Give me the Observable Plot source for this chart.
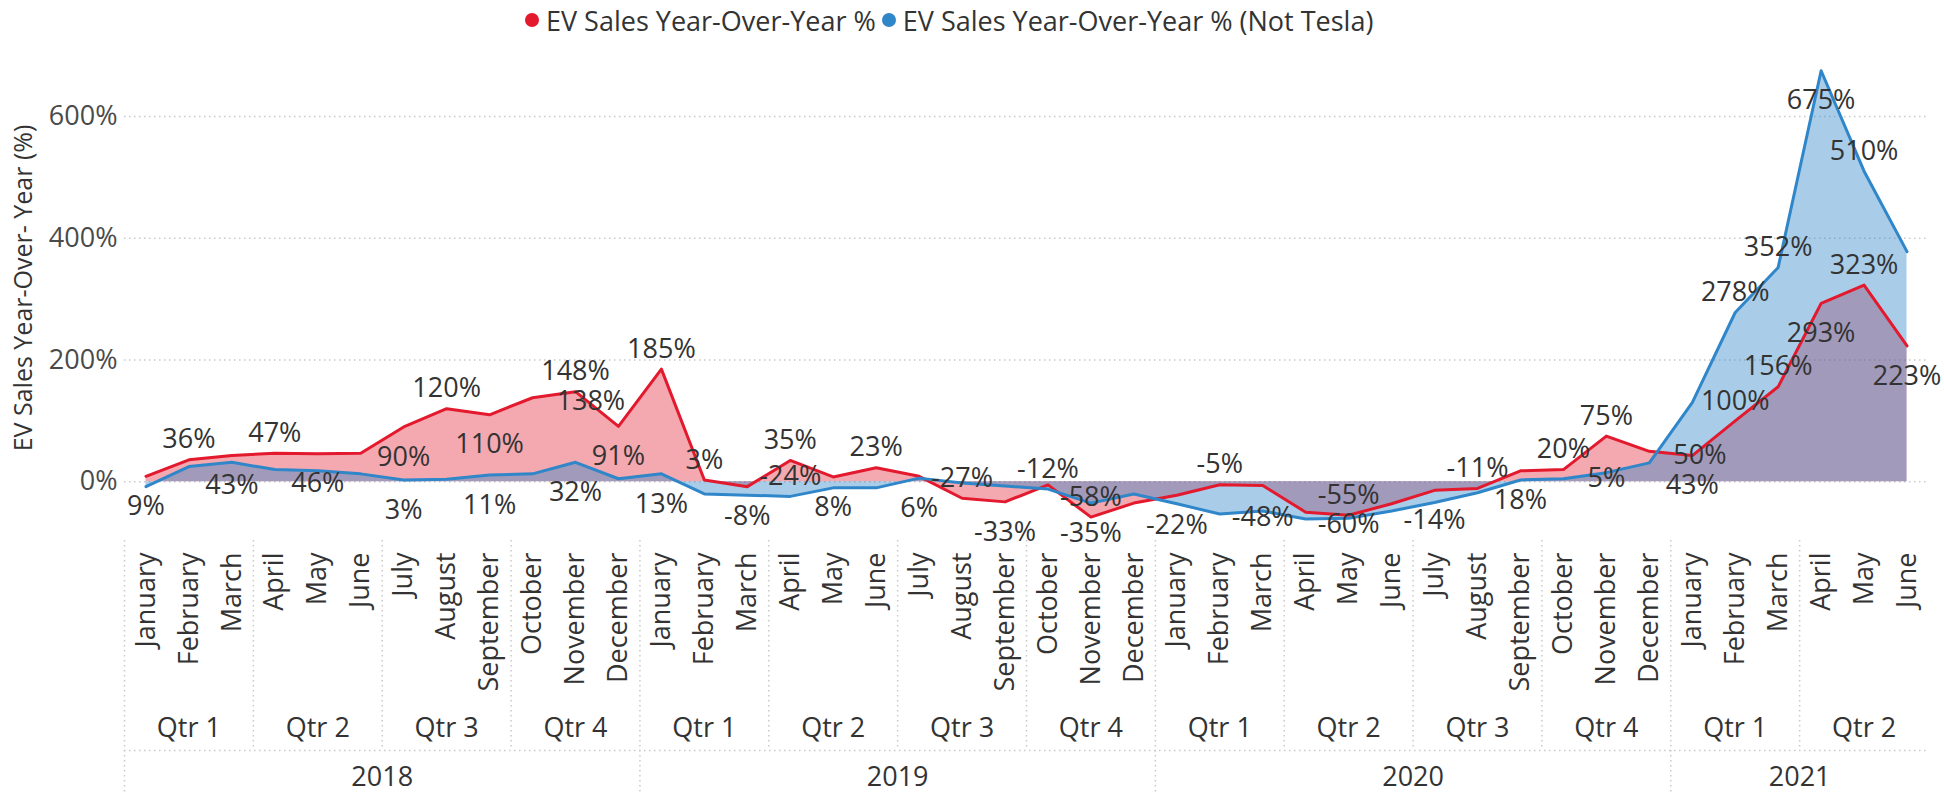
<!DOCTYPE html>
<html>
<head>
<meta charset="utf-8">
<script src="https://cdn.jsdelivr.net/npm/d3@7"></script>
<script src="https://cdn.jsdelivr.net/npm/@observablehq/plot@0.6"></script>
<style>
  html, body { margin: 0; padding: 0; background: #fff; }
  body { width: 1944px; height: 794px; overflow: hidden; font-family: 'Segoe UI', 'Open Sans', sans-serif; color: #333; }
  #legend { position: relative; height: 40px; width: 1944px; }
  #legend .row { position: absolute; left: 525px; top: 0; height: 40px; display: flex; align-items: center; font-size: 27px; color: #333; white-space: nowrap; }
  #legend .item { display: flex; align-items: center; margin-right: 6px; }
  #legend .dot { width: 14px; height: 14px; border-radius: 50%; margin-right: 7px; display: inline-block; }
  #chart svg { display: block; }
</style>
</head>
<body>
<div id="legend"></div>
<div id="chart"></div>
<script>
// ---------- data ----------
const monthNames = ["January","February","March","April","May","June","July","August","September","October","November","December"];
const years = [2018, 2019, 2020, 2021];
const monthsPerYear = [12, 12, 12, 6];

const seriesNames = ["EV Sales Year-Over-Year %", "EV Sales Year-Over-Year % (Not Tesla)"];

// EV Sales Year-Over-Year % (Jan 2018 .. Jun 2021)
const evYoY = [9, 36, 43, 47, 46, 47, 90, 120, 110, 138, 148, 91,
               185, 3, -8, 35, 8, 23, 9, -27, -33, -5, -58, -35,
               -22, -5, -6, -50, -55, -36, -14, -11, 18, 20, 75, 50,
               43, 100, 156, 293, 323, 223];

// EV Sales Year-Over-Year % (Not Tesla)
const notTeslaYoY = [-8, 25, 32, 20, 18, 13, 3, 4, 11, 13, 32, 5,
                     13, -20, -22, -24, -10, -10, 6, -2, -7, -12, -35, -20,
                     -36, -53, -48, -61, -60, -48, -34, -18, 3, 5, 15, 31,
                     130, 278, 352, 675, 510, 378];

const yTicks = [0, 200, 400, 600];
const yTitle = "EV Sales Year-Over- Year (%)";

// data labels shown in the picture: [month index, series, text, placement]
const dataLabels = [
  [0,"ev","9%","below"], [1,"ev","36%","above"], [2,"ev","43%","below"], [3,"ev","47%","above"],
  [4,"ev","46%","below"], [6,"ev","90%","below"], [6,"nt","3%","below"], [7,"ev","120%","above"],
  [8,"ev","110%","below"], [8,"nt","11%","below"], [9,"ev","138%","right"], [10,"ev","148%","above"],
  [10,"nt","32%","below"], [11,"ev","91%","below"], [12,"ev","185%","above"], [12,"nt","13%","below"],
  [13,"ev","3%","above"], [14,"ev","-8%","below"], [15,"ev","35%","above"], [15,"nt","-24%","above"],
  [16,"ev","8%","below"], [17,"ev","23%","above"], [18,"nt","6%","below"], [19,"ev","-27%","above"],
  [20,"ev","-33%","below"], [21,"nt","-12%","above"], [22,"ev","-58%","above"], [22,"nt","-35%","below"],
  [24,"ev","-22%","below"], [25,"ev","-5%","above"], [26,"nt","-48%","on"], [28,"ev","-55%","above"],
  [28,"nt","-60%","on"], [30,"ev","-14%","below"], [31,"ev","-11%","above"], [32,"ev","18%","below"],
  [33,"ev","20%","above"], [34,"ev","75%","above"], [34,"nt","5%","on"], [35,"ev","50%","right"],
  [36,"ev","43%","below"], [37,"ev","100%","above"], [37,"nt","278%","above"], [38,"ev","156%","above"],
  [38,"nt","352%","above"], [39,"ev","293%","below"], [39,"nt","675%","below"], [40,"ev","323%","above"],
  [40,"nt","510%","above"], [41,"ev","223%","below"]
];

// ---------- derived tables ----------
const RED = "#e3192e", BLUE = "#2f86c9";
const rows = [];
years.forEach((yr, k) => {
  for (let m = 0; m < monthsPerYear[k]; m++) {
    const i = rows.length;
    rows.push({i, year: yr, m, month: monthNames[m], q: Math.floor(m / 3) + 1, ev: evYoY[i], nt: notTeslaYoY[i]});
  }
});
const quarters = d3.groups(rows, d => d.year + "-" + d.q).map(([key, g]) => ({
  label: "Qtr " + g[0].q, mid: (g[0].i + g[g.length - 1].i) / 2, start: g[0].i - 0.5, year: g[0].year, first: g[0].q === 1
}));
const yearGroups = d3.groups(rows, d => d.year).map(([yr, g]) => ({
  label: String(yr), mid: (g[0].i + g[g.length - 1].i) / 2, start: g[0].i - 0.5
}));
const quarterBounds = quarters.filter(q => !q.first).map(q => q.start);
const yearBounds = yearGroups.map(y => y.start);

// legend
const legend = document.getElementById("legend");
const row = document.createElement("div");
row.className = "row";
[[seriesNames[0], RED], [seriesNames[1], BLUE]].forEach(([name, c]) => {
  const it = document.createElement("span");
  it.className = "item";
  const dot = document.createElement("span");
  dot.className = "dot";
  dot.style.background = c;
  it.appendChild(dot);
  it.appendChild(document.createTextNode(name));
  row.appendChild(it);
});
legend.appendChild(row);

// label placement styles
const placement = {
  above: {dy: -20},
  below: {dy: 30},
  on: {dy: 6},
  right: {dx: 24, dy: 4, textAnchor: "start"}
};
const valueOf = d => (d[1] === "ev" ? evYoY : notTeslaYoY)[d[0]];
const labelMarks = Object.entries(placement).map(([p, o]) =>
  Plot.text(dataLabels.filter(d => d[3] === p), {
    x: d => d[0], y: valueOf, text: d => d[2], fontSize: 27, fill: "#333", lineAnchor: "middle", ...o
  })
);

const sepStyle = {stroke: "#c9c9c9", strokeDasharray: "1.5,3.5", strokeWidth: 1.5};
const yDomain = [-80, 700];

const chart = Plot.plot({
  width: 1944,
  height: 754,
  marginLeft: 124,
  marginRight: 16,
  marginTop: 15,
  marginBottom: 264,
  x: {domain: [-0.5, rows.length - 0.5], axis: null},
  y: {domain: yDomain},
  style: {fontFamily: "'Segoe UI', 'Open Sans', sans-serif", fontSize: "27px", color: "#333", background: "white"},
  marks: [
    Plot.ruleY(yTicks, sepStyle),
    Plot.axisY({ticks: yTicks, tickFormat: d => d + "%", tickSize: 0, tickPadding: 7, fontSize: 27, fill: "#4a4a4a", label: null}),
    Plot.text([yTitle], {frameAnchor: "left", rotate: -90, textAnchor: "middle", lineAnchor: "middle", dx: -101, dy: -5, fontSize: 25, fill: "#333"}),
    Plot.areaY(rows, {x: "i", y: "ev", fill: RED, fillOpacity: 0.38}),
    Plot.areaY(rows, {x: "i", y: "nt", fill: BLUE, fillOpacity: 0.41}),
    Plot.line(rows, {x: "i", y: "ev", stroke: RED, strokeWidth: 3}),
    Plot.line(rows, {x: "i", y: "nt", stroke: BLUE, strokeWidth: 3}),
    ...labelMarks,
    // hierarchical x axis
    Plot.text(rows, {x: "i", text: "month", frameAnchor: "bottom", rotate: -90, textAnchor: "end", lineAnchor: "middle", dy: 22, fontSize: 27, fill: "#333"}),
    Plot.text(quarters, {x: "mid", text: "label", frameAnchor: "bottom", lineAnchor: "middle", dy: 198, fontSize: 27, fill: "#333"}),
    Plot.text(yearGroups, {x: "mid", text: "label", frameAnchor: "bottom", lineAnchor: "middle", dy: 247, fontSize: 27, fill: "#333"}),
    Plot.ruleX(quarterBounds, {...sepStyle, insetTop: 485, insetBottom: -220}),
    Plot.ruleX(yearBounds, {...sepStyle, insetTop: 485, insetBottom: -264}),
    Plot.ruleY([yDomain[0]], {...sepStyle, dy: 220})
  ]
});
document.getElementById("chart").appendChild(chart);
</script>
</body>
</html>
